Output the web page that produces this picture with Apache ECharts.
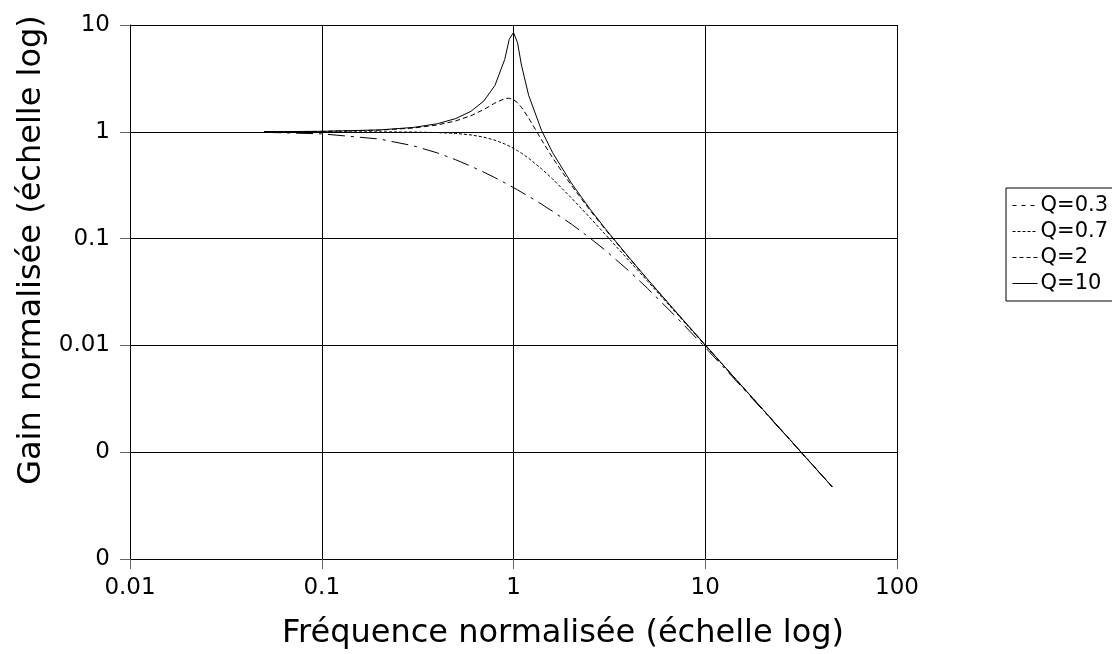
<!DOCTYPE html>
<html>
<head>
<meta charset="utf-8">
<script src="https://cdn.jsdelivr.net/npm/echarts@6/dist/echarts.min.js"></script>
<style>
  html, body { margin: 0; padding: 0; background: #fff; }
  #chart { width: 1112px; height: 654px; }
</style>
</head>
<body>
<div id="chart"></div>
<script>
// Normalised frequency samples (shared by all curves)
const freq = [0.05, 0.1, 0.2, 0.3, 0.4, 0.5, 0.6, 0.7, 0.8, 0.9, 0.95, 1, 1.05, 1.1, 1.2, 1.4, 1.6, 2, 2.5, 3, 4, 5, 7, 10, 15, 20, 30, 46];

// Normalised gain for each quality factor
const gainQ03 = [0.989, 0.957, 0.856, 0.740, 0.635, 0.547, 0.476, 0.419, 0.372, 0.333, 0.316, 0.300, 0.286, 0.272, 0.249, 0.210, 0.180, 0.137, 0.1015, 0.0781, 0.0498, 0.0342, 0.01874, 0.00957, 0.004357, 0.002472, 0.0011056, 0.0004716];
const gainQ07 = [1.000, 0.9998, 0.9984, 0.9942, 0.9843, 0.9655, 0.9348, 0.8908, 0.8346, 0.7694, 0.735, 0.700, 0.6651, 0.6308, 0.565, 0.4508, 0.3614, 0.2414, 0.1575, 0.1102, 0.0623, 0.03994, 0.0204, 0.009998, 0.004444, 0.0025, 0.001111, 0.0004726];
const gainQ2 = [1.0022, 1.0088, 1.0361, 1.0843, 1.1581, 1.2649, 1.4148, 1.6167, 1.8582, 2.0472, 2.0624, 2.000, 1.8695, 1.6986, 1.344, 0.8417, 0.5704, 0.3162, 0.1853, 0.1229, 0.06608, 0.04144, 0.02078, 0.010088, 0.004462, 0.002505, 0.0011122, 0.0004728];
const gainQ10 = [1.0025, 1.0101, 1.0414, 1.0983, 1.1891, 1.3304, 1.5557, 1.9426, 2.7116, 4.7565, 7.346, 8.5, 6.815, 4.218, 2.193, 1.0308, 0.6377, 0.3326, 0.19026, 0.12491, 0.066643, 0.041657, 0.020831, 0.0101005, 0.0044642, 0.0025062, 0.0011123, 0.00047281];

const seriesNames = ['Q=0.3', 'Q=0.7', 'Q=2', 'Q=10'];

// Tick labels, one per decade from the axis minimum
const xTickLabels = ['0.01', '0.1', '1', '10', '100'];
const yTickLabels = ['0', '0', '0.01', '0.1', '1', '10'];

const FONT = 'DejaVu Sans';

function pairs(ys) {
  return freq.map((f, i) => [f, ys[i]]);
}

const chart = echarts.init(document.getElementById('chart'), null, { renderer: 'canvas' });

// Dash patterns of the curves and of their legend samples
const lineStyles = [
  { type: [17, 6, 3, 6] },
  { type: [3, 2] },
  { type: [5, 3] },
  { type: 'solid' }
];
const legendDash = [[4, 5], [3, 2], [4, 3], 'solid'];
const gains = [gainQ03, gainQ07, gainQ2, gainQ10];

chart.setOption({
  backgroundColor: '#fff',
  animation: false,
  grid: { left: 130, right: 215, top: 25, bottom: 95, containLabel: false },
  xAxis: {
    type: 'log',
    logBase: 10,
    min: 0.01,
    max: 100,
    axisLine: { show: true, onZero: false, lineStyle: { color: '#000', width: 1 } },
    axisTick: { show: true, inside: false, length: 10, lineStyle: { color: '#666' } },
    minorTick: { show: false },
    axisLabel: {
      margin: 18,
      color: '#000',
      fontFamily: FONT,
      fontSize: 23,
      formatter: v => xTickLabels[Math.round(Math.log10(v)) + 2]
    },
    splitLine: { show: true, lineStyle: { color: '#000', width: 1 } }
  },
  yAxis: {
    type: 'log',
    logBase: 10,
    min: 0.0001,
    max: 10,
    axisLine: { show: true, onZero: false, lineStyle: { color: '#000', width: 1 } },
    axisTick: { show: true, inside: false, length: 10, lineStyle: { color: '#666' } },
    minorTick: { show: false },
    axisLabel: {
      margin: 20,
      color: '#000',
      fontFamily: FONT,
      fontSize: 23,
      formatter: v => yTickLabels[Math.round(Math.log10(v)) + 4]
    },
    splitLine: { show: true, lineStyle: { color: '#000', width: 1 } }
  },
  legend: {
    orient: 'vertical',
    left: 1006,
    top: 188,
    padding: [7, 6, 7, 6],
    itemGap: 5,
    itemWidth: 25,
    itemHeight: 12,
    borderColor: '#000',
    borderWidth: 1,
    borderRadius: 0,
    itemStyle: { color: 'transparent', borderColor: 'transparent', borderWidth: 0, opacity: 0 },
    textStyle: { fontFamily: FONT, fontSize: 21, color: '#000', padding: [0, 0, 0, -2] },
    data: seriesNames.map((n, i) => ({
      name: n,
      lineStyle: { color: '#000', width: 1, type: legendDash[i] }
    }))
  },
  graphic: [
    {
      type: 'text',
      x: 563,
      y: 634,
      style: {
        text: 'Fréquence normalisée (échelle log)',
        font: '32px "DejaVu Sans"',
        fill: '#000',
        textAlign: 'center',
        textVerticalAlign: 'middle'
      }
    },
    {
      type: 'text',
      x: 32,
      y: 250,
      rotation: Math.PI / 2,
      style: {
        text: 'Gain normalisée (échelle log)',
        font: '32px "DejaVu Sans"',
        fill: '#000',
        textAlign: 'center',
        textVerticalAlign: 'middle'
      }
    }
  ],
  series: seriesNames.map((name, i) => ({
    name,
    type: 'line',
    data: pairs(gains[i]),
    showSymbol: false,
    symbol: 'none',
    smooth: false,
    lineStyle: Object.assign({ color: '#000', width: 1 }, lineStyles[i]),
    itemStyle: { color: '#000' },
    z: 3
  }))
});
</script>
</body>
</html>
